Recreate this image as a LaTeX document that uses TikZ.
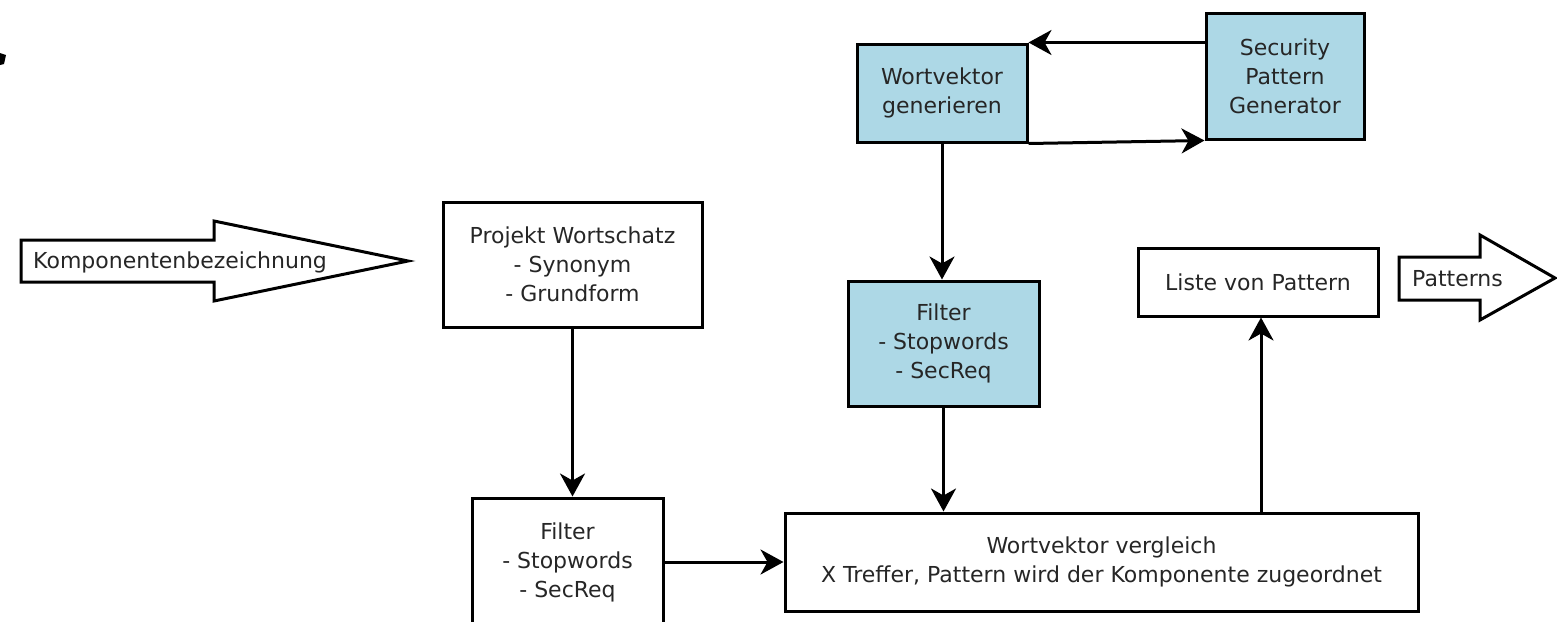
\documentclass[tikz,border=0pt]{standalone}
\usepackage{fontspec}
\setmainfont{DejaVu Sans}
\usepackage{tikz}
\usepackage{xcolor}
\usetikzlibrary{positioning, arrows.meta}
\definecolor{boxblue}{HTML}{ADD8E6}

\begin{document}
\begin{tikzpicture}[x=1pt, y=-1pt,
        box/.style={draw, rectangle, line width=3pt, align=center, inner sep=0pt,
            text=black!85, font=\fontsize{22}{29}\selectfont},
        bluebox/.style={box, fill=boxblue},
        flow/.style={line width=3pt, -{Stealth[length=23pt, width=25pt, inset=7pt]}},
        bigarrow/.style={draw, line width=3pt, line join=miter, fill=white},
        label/.style={text=black!85, font=\fontsize{22}{29}\selectfont, inner sep=0pt}]
        \useasboundingbox (0,0) rectangle (1557,621);
        \clip (0,0) rectangle (1557,621);

        % stray mark top left
        \fill (0,53) -- (6,55) -- (4,64) -- (0,65) -- cycle;

        % input arrow
        \draw[bigarrow] (21,240) -- (214,240) -- (214,221) -- (408,261) -- (214,301) -- (214,282) -- (21,282) -- cycle;
        \node[label, anchor=west] (eingabe) at (33,262) {Komponentenbezeichnung};

        % boxes
        \node[box, minimum width=259pt, minimum height=125pt] (wortschatz) at (572.5,264.5) {Projekt Wortschatz\\- Synonym\\- Grundform};
        \node[box, minimum width=191pt, minimum height=128pt] (filterA) at (567.5,562) {Filter\\- Stopwords\\- SecReq};
        \node[bluebox, minimum width=170pt, minimum height=98pt] (wvgen) at (942,93) {Wortvektor\\generieren};
        \node[bluebox, minimum width=158pt, minimum height=126pt] (spg) at (1285,76) {Security\\Pattern\\Generator};
        \node[bluebox, minimum width=191pt, minimum height=125pt] (filterB) at (943.5,343.5) {Filter\\- Stopwords\\- SecReq};
        \node[box, minimum width=633pt, minimum height=98pt] (vergleich) at (1101.5,562) {Wortvektor vergleich\\X Treffer, Pattern wird der Komponente zugeordnet};
        \node[box, minimum width=240pt, minimum height=68pt] (liste) at (1258,282) {Liste von Pattern};

        % output arrow
        \draw[bigarrow] (1399,257) -- (1480,257) -- (1480,235) -- (1555,278) -- (1480,320) -- (1480,300) -- (1399,300) -- cycle;
        \node[label, anchor=west] (ausgabe) at (1412,279) {Patterns};

        % connectors
        \draw[flow] (wortschatz.south) -- (wortschatz.south |- filterA.north);
        \draw[flow] (filterA.east) -- (filterA.east -| vergleich.west);
        \draw[flow] (wvgen.south) -- (wvgen.south |- filterB.north);
        \draw[flow] (filterB.south) -- (filterB.south |- vergleich.north);
        \draw[flow] (vergleich.north -| 1261,0) -- (liste.south -| 1261,0);
        \draw[flow] (spg.west |- wvgen.north) -- (wvgen.north east);
        \draw[flow] (wvgen.south east) -- (spg.south west);
    \end{tikzpicture}
\end{document}
